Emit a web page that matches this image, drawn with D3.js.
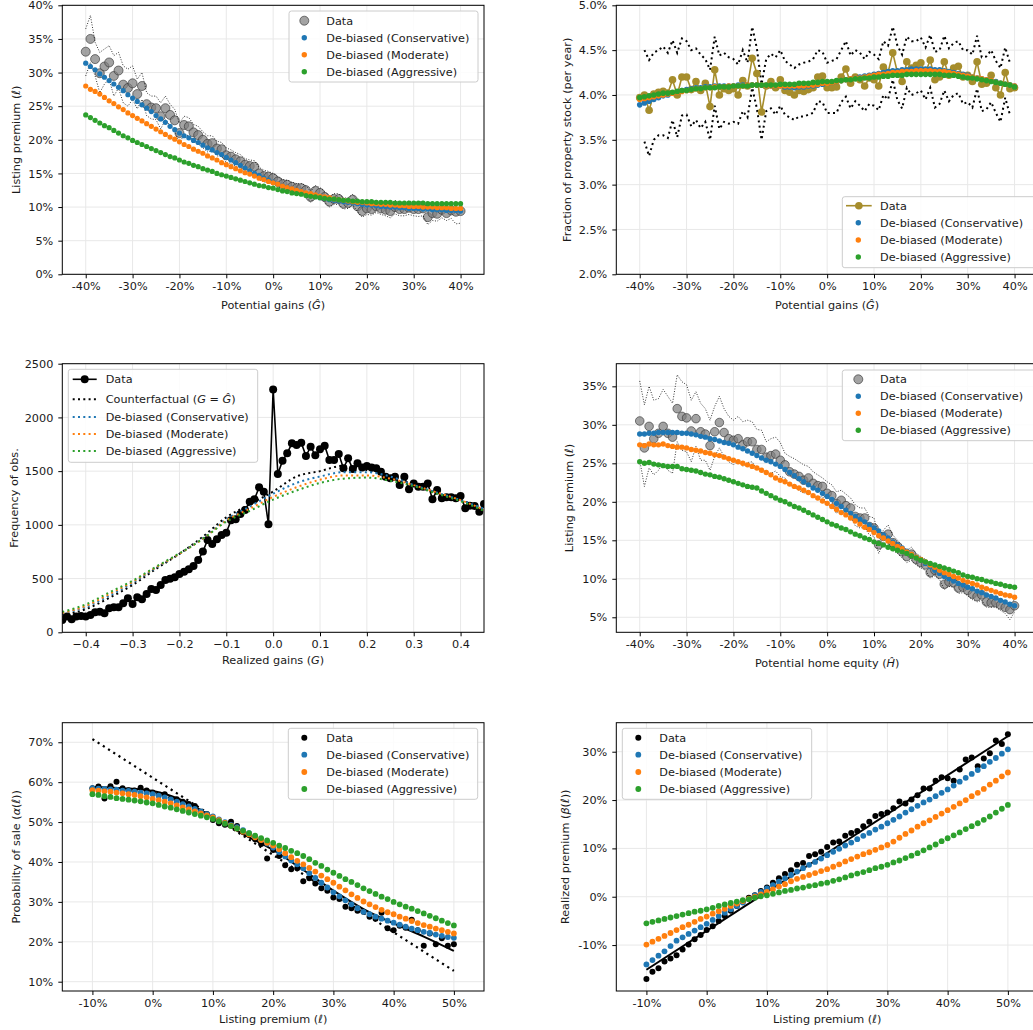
<!DOCTYPE html>
<html>
<head>
<meta charset="utf-8">
<script src="https://cdn.jsdelivr.net/npm/d3@7"></script>
<style>
body { margin: 0; background: #fff; }
svg text { font-family: "DejaVu Sans", sans-serif; font-size: 11.25px; fill: #1a1a1a; }
</style>
</head>
<body>
<svg id="fig" width="1033" height="1030"></svg>
<script>
// ---------- panel 1 : listing premium vs potential gains ----------
var p1X = d3.range(-40, 41);
var p1Data = [33.1,35.0,32.0,29.9,30.9,31.5,29.5,30.3,28.2,27.7,
  28.4,26.8,28.0,25.3,24.8,24.7,23.5,24.7,23.7,22.9,
  21.0,22.2,22.0,21.1,20.7,20.0,19.4,19.5,18.7,18.6,
  17.7,17.5,17.1,16.8,16.3,16.1,16.0,15.0,14.6,14.5,
  14.3,13.8,13.4,13.3,13.0,12.8,12.8,12.5,11.5,12.4,
  12.1,11.5,10.8,11.2,11.2,10.5,10.6,11.1,10.1,9.4,
  9.8,9.7,10.1,9.8,9.6,9.4,10.0,9.7,9.7,9.9,
  9.7,9.7,9.8,8.5,9.1,9.0,9.6,9.1,9.5,9.3,9.4];
var p1Hi = [36.5,38.5,34.5,33.0,33.5,34.0,32.5,33.0,31.0,30.5,
  31.0,29.0,30.0,27.0,26.5,26.5,25.5,26.5,25.3,24.5,
  22.5,23.5,23.3,22.3,22.0,21.2,20.6,20.6,19.8,19.6,
  18.8,18.5,18.1,17.8,17.2,17.0,16.9,15.9,15.5,15.3,
  15.0,14.5,14.1,14.0,13.7,13.5,13.5,13.2,12.3,13.2,
  12.9,12.3,11.6,12.0,12.0,11.3,11.4,11.9,10.9,10.3,
  10.7,10.6,11.0,10.7,10.5,10.4,11.0,10.7,10.7,10.9,
  10.7,10.7,10.9,9.6,10.2,10.1,10.8,10.3,10.7,10.5,10.6];
var p1Lo = [29.5,31.5,29.5,27.0,28.3,29.0,26.5,27.7,25.5,25.0,
  26.0,24.6,26.0,23.6,23.1,23.0,21.6,23.0,22.1,21.3,
  19.5,20.8,20.6,19.9,19.4,18.8,18.2,18.4,17.6,17.6,
  16.6,16.5,16.1,15.8,15.4,15.2,15.1,14.1,13.7,13.7,
  13.5,13.1,12.7,12.6,12.3,12.1,12.1,11.8,10.7,11.6,
  11.3,10.7,10.0,10.4,10.4,9.7,9.8,10.3,9.3,8.5,
  8.9,8.8,9.2,8.9,8.7,8.4,9.0,8.7,8.7,8.9,
  8.7,8.6,8.7,7.4,8.0,7.9,8.4,8.0,8.3,7.5,7.6];
var p1Cons = [31.4,30.9,30.4,29.8,29.3,28.8,28.3,27.8,27.3,26.7,
  26.2,25.7,25.2,24.7,24.2,23.6,23.1,22.6,22.0,21.5,
  21.0,20.6,20.3,19.9,19.6,19.2,18.8,18.5,18.1,17.8,
  17.4,17.0,16.6,16.2,15.8,15.4,15.0,14.7,14.3,14.0,
  13.7,13.4,13.1,12.9,12.6,12.4,12.2,12.0,11.8,11.6,
  11.4,11.3,11.1,11.0,10.9,10.8,10.7,10.6,10.5,10.4,
  10.3,10.3,10.2,10.1,10.1,10.0,10.0,9.9,9.9,9.8,
  9.8,9.8,9.7,9.7,9.6,9.6,9.6,9.5,9.5,9.5,9.4];
var p1Mod = [28.0,27.5,27.2,26.8,26.3,25.8,25.4,24.9,24.5,24.0,
  23.6,23.2,22.8,22.4,22.0,21.6,21.2,20.8,20.4,20.1,
  19.7,19.3,19.0,18.6,18.3,18.0,17.6,17.3,17.0,16.6,
  16.3,16.0,15.7,15.4,15.1,14.9,14.6,14.3,14.1,13.8,
  13.6,13.4,13.1,12.9,12.7,12.5,12.3,12.1,12.0,11.8,
  11.6,11.5,11.4,11.2,11.1,11.0,10.9,10.8,10.7,10.7,
  10.6,10.5,10.5,10.4,10.4,10.3,10.3,10.2,10.2,10.1,
  10.1,10.1,10.0,10.0,10.0,9.9,9.9,9.9,9.8,9.8,9.8];
var p1Agg = [23.7,23.3,22.9,22.5,22.1,21.8,21.4,21.0,20.6,20.3,
  19.9,19.6,19.3,19.0,18.7,18.4,18.1,17.8,17.5,17.3,
  17.0,16.7,16.5,16.2,16.0,15.7,15.5,15.3,15.0,14.8,
  14.6,14.4,14.2,14.0,13.8,13.6,13.4,13.2,13.1,12.9,
  12.8,12.6,12.4,12.3,12.1,12.0,11.9,11.7,11.6,11.5,
  11.4,11.3,11.2,11.2,11.1,11.0,11.0,10.9,10.9,10.8,
  10.8,10.8,10.7,10.7,10.7,10.7,10.6,10.6,10.6,10.6,
  10.6,10.6,10.6,10.5,10.5,10.5,10.5,10.5,10.5,10.5,10.5];

// ---------- panel 2 : fraction of stock listed ----------
var p2X = d3.range(-40, 41);
var p2Data = [3.97,4.00,3.83,4.01,4.03,4.04,4.02,4.17,4.00,4.20,
  4.20,4.06,4.15,4.05,4.13,3.87,4.28,4.00,4.07,4.05,
  4.07,4.00,4.16,4.10,4.41,4.24,3.81,4.10,4.15,4.08,
  4.17,4.05,4.03,4.00,4.05,4.04,4.06,4.08,4.20,4.21,
  4.08,4.08,4.09,4.20,4.29,4.13,4.20,4.17,4.10,4.19,
  4.17,4.10,4.31,4.25,4.47,4.25,4.15,4.37,4.30,4.33,
  4.36,4.25,4.39,4.17,4.20,4.37,4.22,4.30,4.32,4.20,
  4.22,4.15,4.37,4.12,4.13,4.22,4.08,4.00,4.25,4.07,4.08];
var p2Hi = [null,4.50,4.39,4.47,4.50,4.54,4.47,4.61,4.47,4.63,
  4.60,4.50,4.52,4.45,4.40,4.28,4.65,4.44,4.47,4.42,
  4.40,4.34,4.50,4.36,4.76,4.52,4.12,4.40,4.46,4.42,
  4.50,4.38,4.34,4.30,4.34,4.36,4.37,4.40,4.50,4.48,
  4.36,4.38,4.40,4.50,4.60,4.44,4.50,4.47,4.40,4.48,
  4.45,4.40,4.60,4.55,4.76,4.55,4.45,4.65,4.60,4.60,
  4.64,4.53,4.67,4.48,4.50,4.66,4.52,4.58,4.60,4.50,
  4.50,4.45,4.66,4.42,4.43,4.50,4.38,4.30,4.53,4.36,null];
var p2Lo = [null,3.48,3.32,3.50,3.55,3.55,3.52,3.72,3.53,3.77,
  3.78,3.65,3.72,3.63,3.70,3.50,3.88,3.62,3.70,3.68,
  3.70,3.68,3.82,3.75,4.08,3.85,3.50,3.82,3.85,3.78,
  3.88,3.78,3.75,3.72,3.76,3.76,3.78,3.80,3.93,3.92,
  3.80,3.80,3.80,3.92,3.98,3.85,3.93,3.88,3.82,3.90,
  3.88,3.83,4.00,3.95,4.17,3.94,3.85,4.08,4.00,4.02,
  4.05,3.95,4.08,3.86,3.90,4.05,3.93,4.00,4.02,3.90,
  3.92,3.86,4.07,3.82,3.84,3.92,3.80,3.70,3.97,3.78,null];
var p2Cons = [3.89,3.91,3.93,3.95,3.97,3.99,4.00,4.02,4.03,4.05,
  4.06,4.07,4.08,4.08,4.09,4.09,4.10,4.10,4.10,4.10,
  4.10,4.11,4.11,4.11,4.11,4.11,4.11,4.10,4.10,4.10,
  4.10,4.09,4.09,4.08,4.09,4.09,4.10,4.10,4.11,4.12,
  4.13,4.14,4.15,4.16,4.17,4.18,4.19,4.20,4.21,4.22,
  4.23,4.24,4.25,4.26,4.27,4.27,4.28,4.28,4.29,4.29,
  4.29,4.29,4.29,4.28,4.28,4.27,4.26,4.25,4.24,4.23,
  4.22,4.20,4.19,4.18,4.17,4.16,4.15,4.13,4.12,4.11,4.10];
var p2Mod = [3.95,3.96,3.97,3.98,3.99,4.00,4.01,4.02,4.03,4.04,
  4.05,4.06,4.07,4.07,4.08,4.08,4.09,4.09,4.09,4.10,
  4.10,4.10,4.10,4.11,4.11,4.11,4.11,4.10,4.10,4.10,
  4.10,4.10,4.10,4.10,4.10,4.10,4.11,4.11,4.12,4.13,
  4.13,4.14,4.15,4.16,4.17,4.18,4.19,4.19,4.20,4.21,
  4.22,4.23,4.23,4.24,4.25,4.25,4.26,4.26,4.26,4.27,
  4.27,4.27,4.27,4.26,4.26,4.26,4.25,4.24,4.23,4.22,
  4.21,4.20,4.19,4.18,4.17,4.16,4.14,4.13,4.12,4.11,4.10];
var p2Agg = [3.97,3.98,3.99,4.00,4.01,4.02,4.02,4.03,4.04,4.05,
  4.05,4.06,4.07,4.07,4.08,4.08,4.08,4.09,4.09,4.09,
  4.10,4.10,4.10,4.10,4.11,4.11,4.11,4.11,4.11,4.11,
  4.12,4.12,4.12,4.12,4.13,4.13,4.13,4.14,4.14,4.15,
  4.15,4.15,4.16,4.16,4.17,4.17,4.18,4.18,4.19,4.19,
  4.20,4.20,4.21,4.21,4.22,4.22,4.22,4.23,4.23,4.23,
  4.23,4.23,4.23,4.23,4.23,4.22,4.22,4.22,4.21,4.20,
  4.19,4.19,4.18,4.17,4.16,4.15,4.14,4.13,4.12,4.11,4.09];

// ---------- panel 3 : histogram of realized gains ----------
var p3X = d3.range(-45, 46).map(function(d){ return d / 100; });
var p3Data = [115,146,121,146,152,146,161,186,192,177,
  223,233,233,270,316,264,326,307,357,403,
  394,440,487,499,512,543,564,586,617,673,
  751,859,822,865,905,927,1042,1052,1100,1138,
  1216,1238,1349,1309,1005,2261,1473,1597,1666,1759,
  1743,1765,1641,1728,1647,1703,1737,1604,1604,1659,
  1526,1619,1520,1573,1535,1548,1535,1526,1495,1448,
  1433,1448,1371,1448,1331,1386,1355,1355,1386,1238,
  1324,1247,1256,1256,1247,1269,1154,1179,1176,1123,1194];
var p3SX = [-0.45,-0.40,-0.35,-0.30,-0.25,-0.20,-0.15,-0.10,-0.05,0,0.05,0.10,0.15,0.20,0.25,0.30,0.35,0.40,0.45];
var p3Cf = [160,215,320,440,590,730,890,1070,1190,1310,1450,1500,1550,1510,1460,1370,1290,1230,1150];
var p3Cons = [175,235,340,460,600,730,875,1050,1170,1290,1390,1450,1490,1490,1450,1370,1300,1230,1150];
var p3Mod = [180,245,355,470,605,730,870,1040,1150,1260,1350,1420,1460,1460,1430,1370,1300,1230,1140];
var p3Agg = [190,260,370,480,610,735,870,1030,1130,1235,1320,1390,1430,1440,1410,1360,1290,1220,1130];

// ---------- panel 4 : listing premium vs home equity ----------
var p4X = d3.range(-40, 41);
var p4Data = [30.5,27.0,29.8,28.2,28.9,29.8,28.9,28.4,32.1,31.1,
  30.9,29.2,30.8,29.1,28.8,27.3,29.1,30.3,29.0,28.2,
  28.0,28.2,27.4,27.8,27.8,26.8,26.8,25.8,26.0,26.2,
  25.4,24.8,23.9,23.6,23.3,22.8,23.1,22.4,22.1,22.0,
  21.1,20.8,19.8,20.2,19.5,19.2,18.1,17.9,17.9,16.8,
  16.6,14.4,15.5,15.8,14.7,14.2,13.5,12.9,13.2,12.5,
  12.1,11.8,10.8,11.1,10.6,9.3,9.6,9.5,8.8,8.9,
  8.5,8.0,7.7,7.9,7.0,6.9,6.9,6.6,6.3,6.0,6.5];
var p4Hi = [35.7,32.6,35.0,33.2,33.4,34.6,33.7,32.8,36.5,35.6,
  35.2,33.2,34.3,32.8,32.1,30.6,32.4,33.7,32.1,31.1,
  30.6,31.1,30.4,30.6,30.4,29.4,29.3,27.8,28.2,28.4,
  27.7,26.3,25.9,25.6,25.2,24.8,24.6,23.9,23.5,23.1,
  22.6,22.2,21.3,21.5,21.0,20.5,19.6,19.2,19.2,18.1,
  17.9,15.5,16.3,17.0,15.7,15.0,14.4,13.7,14.1,13.3,
  12.9,12.5,11.6,11.9,11.4,10.1,10.4,10.3,9.4,9.5,
  9.2,8.8,8.5,8.6,7.8,7.7,7.7,7.3,7.0,6.7,7.3];
var p4Lo = [25.4,22.0,24.4,23.5,24.1,25.0,24.1,23.7,27.8,26.7,
  26.5,25.2,27.2,25.4,25.4,24.1,25.9,27.0,25.9,25.2,
  24.8,25.4,24.6,25.1,25.2,24.2,24.4,23.7,23.7,24.0,
  23.3,23.1,22.2,21.9,21.5,21.1,21.3,20.8,20.5,20.7,
  19.7,19.4,18.5,19.0,18.2,18.0,16.9,16.6,16.7,15.7,
  15.5,13.3,14.6,14.7,13.7,13.3,12.7,12.1,12.4,11.8,
  11.4,11.1,10.1,10.4,9.9,8.6,9.0,8.9,8.1,8.2,
  7.8,7.3,7.0,7.2,6.3,6.3,6.3,5.9,5.5,4.7,5.7];
var p4Cons = [28.8,28.8,28.9,28.9,29.0,29.0,29.0,29.0,29.0,28.9,
  28.9,28.8,28.7,28.5,28.4,28.2,28.1,27.9,27.7,27.6,
  27.4,27.1,26.9,26.6,26.3,26.0,25.7,25.4,25.2,24.9,
  24.6,24.2,23.8,23.4,23.0,22.6,22.2,21.8,21.5,21.1,
  20.7,20.3,19.8,19.4,18.9,18.5,18.1,17.7,17.4,17.0,
  16.6,16.2,15.7,15.3,14.8,14.4,14.0,13.6,13.2,12.8,
  12.4,12.0,11.6,11.1,10.7,10.3,10.0,9.7,9.4,9.2,
  8.9,8.7,8.4,8.2,7.9,7.7,7.5,7.2,7.0,6.7,6.5];
var p4Mod = [27.4,27.3,27.5,27.4,27.4,27.5,27.3,27.2,27.1,27.1,
  27.0,26.8,26.7,26.6,26.4,26.3,26.1,26.0,25.8,25.6,
  25.4,25.2,25.0,24.8,24.6,24.4,24.1,23.8,23.5,23.1,
  22.8,22.6,22.3,22.0,21.8,21.5,21.2,20.8,20.5,20.1,
  19.8,19.4,19.0,18.6,18.3,17.9,17.5,17.1,16.7,16.4,
  16.0,15.6,15.3,14.9,14.6,14.2,13.9,13.5,13.2,12.8,
  12.5,12.2,11.8,11.5,11.1,10.8,10.6,10.3,10.1,9.8,
  9.6,9.4,9.2,8.9,8.7,8.5,8.3,8.1,7.9,7.8,7.6];
var p4Agg = [25.2,25.0,25.1,24.9,24.8,24.7,24.6,24.6,24.6,24.3,
  24.2,24.1,24.0,23.8,23.6,23.5,23.3,23.2,23.0,22.8,
  22.6,22.4,22.2,22.0,21.9,21.8,21.4,21.1,20.8,20.5,
  20.2,20.0,19.7,19.4,19.2,18.9,18.6,18.3,18.0,17.7,
  17.4,17.1,16.9,16.6,16.4,16.1,15.8,15.6,15.3,15.1,
  14.8,14.6,14.4,14.1,13.9,13.7,13.5,13.3,13.0,12.7,
  12.4,12.2,12.0,11.8,11.6,11.4,11.2,11.0,10.8,10.5,
  10.3,10.2,10.0,9.9,9.7,9.6,9.4,9.3,9.1,9.0,8.9];

// ---------- panel 5 : probability of sale ----------
var p5X = d3.range(-10, 51);
var p5Data = [58.5,58.9,55.9,59.0,60.1,58.5,58.0,57.9,58.6,57.9,
  57.4,56.8,57.0,55.9,55.7,55.1,54.5,54.0,52.6,52.0,
  50.5,49.7,49.3,50.1,49.0,47.6,46.8,45.7,44.5,40.9,
  43.0,41.5,39.2,38.2,38.4,35.2,35.9,34.6,33.4,32.8,
  31.1,30.7,28.8,28.4,27.8,27.5,26.3,25.8,27.3,23.4,
  22.9,24.0,23.5,25.5,22.9,19.0,22.1,19.4,20.9,19.0,19.4];
var p5FitX = [-10,-5,0,5,10,15,20,25,30,35,40,45,50];
var p5Fit = [58.8,58.5,57.8,55.4,51.2,47.0,43.0,38.0,32.8,28.2,24.6,21.3,17.7];
var p5CfX = [-10, 50];
var p5Cf = [70.8, 12.7];
var p5Cons = [58.5,58.4,58.3,58.2,58.1,57.9,57.8,57.6,57.4,57.2,
  57.0,56.6,56.2,55.7,55.1,54.5,53.9,53.3,52.7,52.0,
  51.4,50.7,50.0,49.3,48.7,48.0,47.2,46.4,45.6,44.6,
  43.6,42.5,41.4,40.4,39.4,38.4,37.2,36.0,34.8,33.6,
  32.4,31.4,30.4,29.4,28.4,27.5,26.9,26.3,25.8,25.3,
  24.8,24.3,23.8,23.3,22.9,22.5,22.2,21.8,21.5,21.2,21.0];
var p5Mod = [58.0,57.9,57.7,57.6,57.4,57.2,57.0,56.8,56.5,56.2,
  55.8,55.5,55.1,54.7,54.2,53.7,53.2,52.7,52.2,51.7,
  51.2,50.5,49.8,49.1,48.4,47.6,46.9,46.2,45.5,44.8,
  44.1,43.2,42.2,41.2,40.3,39.4,38.5,37.6,36.6,35.7,
  34.8,33.8,32.9,31.9,31.0,30.1,29.4,28.7,28.0,27.4,
  26.9,26.3,25.8,25.2,24.7,24.2,23.8,23.3,22.9,22.5,22.1];
var p5Agg = [57.0,56.8,56.5,56.3,56.0,55.8,55.6,55.4,55.2,54.9,
  54.7,54.3,53.9,53.6,53.2,52.8,52.4,52.0,51.6,51.2,
  50.8,50.2,49.6,49.0,48.4,47.8,47.2,46.6,46.0,45.4,
  44.8,44.1,43.5,42.8,42.2,41.5,40.7,39.8,39.0,38.1,
  37.3,36.5,35.7,35.0,34.2,33.4,32.7,32.0,31.3,30.7,
  30.0,29.4,28.8,28.3,27.7,27.1,26.5,25.9,25.3,24.7,24.1];

// ---------- panel 6 : realized premium ----------
var p6X = d3.range(-10, 51);
var p6Data = [-17.0,-15.5,-14.8,-13.4,-12.8,-12.1,-10.9,-9.9,-8.8,-7.9,
  -6.9,-6.1,-5.0,-4.0,-2.9,-1.9,-1.0,-0.2,0.3,1.2,
  1.9,2.9,3.8,4.7,5.5,6.6,7.0,8.4,8.8,9.3,
  10.3,11.2,11.4,12.6,13.2,13.6,14.6,15.5,16.7,17.1,
  17.4,18.3,19.7,19.3,20.1,21.0,22.4,22.4,24.0,24.7,
  24.5,24.0,26.3,28.4,28.8,27.0,28.6,29.7,32.3,31.6,33.6];
var p6FitX = [-10, 50];
var p6Fit = [-15.1, 33.2];
var p6Cons = [-14.0,-13.1,-12.2,-11.3,-10.2,-9.1,-8.4,-7.7,-7.0,-6.3,
  -5.6,-4.8,-4.0,-3.3,-2.6,-1.9,-1.2,-0.5,0.3,1.0,
  1.7,2.4,3.1,3.8,4.5,5.2,5.9,6.6,7.2,7.9,
  8.6,9.3,9.9,10.6,11.2,11.9,12.6,13.2,13.9,14.5,
  15.2,15.9,16.6,17.4,18.1,18.8,19.5,20.1,20.8,21.5,
  22.2,23.0,23.8,24.6,25.4,26.2,27.0,27.9,28.7,29.6,30.5];
var p6Mod = [-9.9,-9.3,-8.7,-8.1,-7.5,-6.9,-6.3,-5.8,-5.2,-4.6,
  -4.1,-3.5,-3.0,-2.5,-1.9,-1.4,-0.9,-0.4,0.0,0.5,
  1.0,1.5,2.1,2.6,3.2,3.7,4.1,4.5,4.9,5.3,
  5.7,6.2,6.7,7.3,7.8,8.3,8.8,9.2,9.7,10.2,
  10.7,11.4,12.2,13.0,13.7,14.5,15.2,15.8,16.5,17.2,
  17.9,18.6,19.3,20.0,20.8,21.5,22.3,23.2,24.0,24.9,25.7];
var p6Agg = [-5.5,-5.2,-4.9,-4.6,-4.3,-4.0,-3.7,-3.4,-3.1,-2.9,
  -2.6,-2.3,-1.9,-1.6,-1.3,-1.0,-0.7,-0.5,-0.2,0.1,
  0.3,0.6,0.9,1.2,1.4,1.7,1.9,2.2,2.4,2.7,
  2.9,3.3,3.6,4.0,4.4,4.8,5.1,5.5,5.9,6.2,
  6.6,7.1,7.5,8.0,8.5,9.0,9.6,10.2,10.8,11.5,
  12.1,12.7,13.3,14.0,14.6,15.2,15.9,16.6,17.4,18.2,19.0];

// tick values
var pctGainTicks = [-40,-30,-20,-10,0,10,20,30,40];
var premTicks = [-10,0,10,20,30,40,50];
var p1YT = [0,5,10,15,20,25,30,35,40];
var p2YT = [2.0,2.5,3.0,3.5,4.0,4.5,5.0];
var p3XT = [-0.4,-0.3,-0.2,-0.1,0,0.1,0.2,0.3,0.4];
var p3YT = [0,500,1000,1500,2000,2500];
var p4YT = [5,10,15,20,25,30,35];
var p5YT = [10,20,30,40,50,60,70];
var p6YT = [-10,0,10,20,30];

var C0 = "#1f77b4", C1 = "#ff7f0e", C2 = "#2ca02c", GOLD = "#a68d2c";
var svg = d3.select("#fig");
var pct = function(d){ return d + "%"; };

function rich(t, parts){
  parts.forEach(function(p){
    var it = p.charAt(0) === "*";
    t.append("tspan").text(it ? p.slice(1) : p).attr("font-style", it ? "italic" : null);
  });
}

function axes(o){
  var x = d3.scaleLinear().domain(o.xd).range([o.l, o.r]);
  var y = d3.scaleLinear().domain(o.yd).range([o.b, o.t]);
  var g = svg.append("g");
  svg.append("clipPath").attr("id", "clip" + o.id).append("rect")
    .attr("x", o.l).attr("y", o.t).attr("width", o.r - o.l).attr("height", o.b - o.t);
  var grid = g.append("g").attr("stroke", "#e8e8e8").attr("stroke-width", 1);
  grid.selectAll(".gx").data(o.xt).enter().append("line")
    .attr("x1", x).attr("x2", x).attr("y1", o.t).attr("y2", o.b);
  grid.selectAll(".gy").data(o.yt).enter().append("line")
    .attr("y1", y).attr("y2", y).attr("x1", o.l).attr("x2", o.r);
  var ax = g.append("g").attr("transform", "translate(0," + o.b + ")")
    .call(d3.axisBottom(x).tickValues(o.xt).tickFormat(o.xf).tickSize(4).tickPadding(4));
  var ay = g.append("g").attr("transform", "translate(" + o.l + ",0)")
    .call(d3.axisLeft(y).tickValues(o.yt).tickFormat(o.yf).tickSize(4).tickPadding(5));
  ax.select(".domain").remove();
  ay.select(".domain").remove();
  var plot = g.append("g").attr("clip-path", "url(#clip" + o.id + ")");
  rich(g.append("text").attr("x", (o.l + o.r) / 2).attr("y", o.xly).attr("text-anchor", "middle"), o.xl);
  rich(g.append("text").attr("text-anchor", "middle")
    .attr("transform", "translate(" + o.ylx + "," + (o.t + o.b) / 2 + ") rotate(-90)"), o.yl);
  return {g: g, plot: plot, x: x, y: y, o: o};
}

function spines(a){
  var o = a.o;
  a.g.append("rect").attr("x", o.l).attr("y", o.t).attr("width", o.r - o.l).attr("height", o.b - o.t)
    .attr("fill", "none").attr("stroke", "#000").attr("stroke-width", 1);
}

function dots(a, xs, ys, r, fill, extra){
  var s = a.plot.append("g").selectAll("circle").data(xs).enter().append("circle")
    .attr("cx", function(d){ return a.x(d); })
    .attr("cy", function(d, i){ return a.y(ys[i]); })
    .attr("r", r).attr("fill", fill);
  if (extra) extra(s);
}

function line(a, xs, ys, stroke, w, dash, curve){
  var ln = d3.line().defined(function(d, i){ return ys[i] != null; })
    .x(function(d){ return a.x(d); }).y(function(d, i){ return a.y(ys[i]); });
  if (curve) ln.curve(curve);
  a.plot.append("path").datum(xs).attr("d", ln).attr("fill", "none")
    .attr("stroke", stroke).attr("stroke-width", w).attr("stroke-dasharray", dash || null);
}

var grayStyle = function(s){
  s.attr("fill-opacity", 0.72).attr("stroke", "#333").attr("stroke-opacity", 0.7).attr("stroke-width", 0.9);
};

function legend(box, rows, mx, lx0, lx1, tx){
  var g = svg.append("g");
  g.append("rect").attr("x", box[0]).attr("y", box[1]).attr("width", box[2]).attr("height", box[3])
    .attr("rx", 2.5).attr("fill", "#fff").attr("fill-opacity", 0.85).attr("stroke", "#cccccc").attr("stroke-width", 1);
  rows.forEach(function(r){
    if (r.k === "gray") {
      g.append("circle").attr("cx", mx).attr("cy", r.y).attr("r", 4.5).attr("fill", "gray").call(grayStyle);
    } else if (r.k === "dot") {
      g.append("circle").attr("cx", mx).attr("cy", r.y).attr("r", r.r || 2.7).attr("fill", r.c);
    } else if (r.k === "lm") {
      g.append("line").attr("x1", lx0).attr("x2", lx1).attr("y1", r.y).attr("y2", r.y)
        .attr("stroke", r.c).attr("stroke-width", 1.6);
      g.append("circle").attr("cx", (lx0 + lx1) / 2).attr("cy", r.y).attr("r", r.r).attr("fill", r.c);
    } else if (r.k === "dotted") {
      g.append("line").attr("x1", lx0).attr("x2", lx1).attr("y1", r.y).attr("y2", r.y)
        .attr("stroke", r.c).attr("stroke-width", 2).attr("stroke-dasharray", "2,3.3");
    }
    rich(g.append("text").attr("x", tx).attr("y", r.y + 4), r.t);
  });
}

var LBL = ["De-biased (Conservative)", "De-biased (Moderate)", "De-biased (Aggressive)"];

// ---- panel 1
var a1 = axes({id: 1, l: 62.3, r: 484, t: 5.3, b: 274.3, xd: [-45, 45], yd: [0, 40],
  xt: pctGainTicks, yt: p1YT, xf: pct, yf: pct, xly: 309, ylx: 19.5,
  xl: ["Potential gains (", "*Ĝ", ")"], yl: ["Listing premium (", "*ℓ", ")"]});
dots(a1, p1X, p1Data, 4.5, "gray", grayStyle);
line(a1, p1X, p1Hi, "#000", 0.8, "1,1.6");
line(a1, p1X, p1Lo, "#000", 0.8, "1,1.6");
dots(a1, p1X, p1Cons, 2.6, C0);
dots(a1, p1X, p1Mod, 2.6, C1);
dots(a1, p1X, p1Agg, 2.6, C2);
spines(a1);
legend([289, 11, 189, 71], [
  {y: 20.7, k: "gray", t: ["Data"]},
  {y: 37.7, k: "dot", c: C0, t: [LBL[0]]},
  {y: 54.7, k: "dot", c: C1, t: [LBL[1]]},
  {y: 71.7, k: "dot", c: C2, t: [LBL[2]]}], 304.3, 0, 0, 326.3);

// ---- panel 2
var a2 = axes({id: 2, l: 616.3, r: 1038, t: 5.3, b: 274.3, xd: [-45, 45], yd: [2, 5],
  xt: pctGainTicks, yt: p2YT, xf: pct, yf: function(d){ return d3.format(".1f")(d) + "%"; },
  xly: 309, ylx: 571, xl: ["Potential gains (", "*Ĝ", ")"], yl: ["Fraction of property stock (per year)"]});
line(a2, p2X, p2Hi, "#000", 2, "2,3.3");
line(a2, p2X, p2Lo, "#000", 2, "2,3.3");
line(a2, p2X, p2Data, GOLD, 1.6);
dots(a2, p2X, p2Data, 3.8, GOLD);
dots(a2, p2X, p2Cons, 2.8, C0);
dots(a2, p2X, p2Mod, 2.8, C1);
dots(a2, p2X, p2Agg, 2.8, C2);
spines(a2);
legend([842.3, 196.7, 196, 71], [
  {y: 205.7, k: "lm", c: GOLD, r: 3.8, t: ["Data"]},
  {y: 222.7, k: "dot", c: C0, t: [LBL[0]]},
  {y: 240, k: "dot", c: C1, t: [LBL[1]]},
  {y: 257, k: "dot", c: C2, t: [LBL[2]]}], 858.3, 846, 871.7, 880);

// ---- panel 3
var a3 = axes({id: 3, l: 62.3, r: 484, t: 363.7, b: 632.3, xd: [-0.45, 0.45], yd: [0, 2500],
  xt: p3XT, yt: p3YT, xf: d3.format(".1f"), yf: d3.format("d"), xly: 664, ylx: 17.5,
  xl: ["Realized gains (", "*G", ")"], yl: ["Frequency of obs."]});
line(a3, p3X, p3Data, "#000", 1.6);
dots(a3, p3X, p3Data, 4, "#000");
line(a3, p3SX, p3Cf, "#000", 2, "2,3.3", d3.curveMonotoneX);
line(a3, p3SX, p3Cons, C0, 2, "2,3.3", d3.curveMonotoneX);
line(a3, p3SX, p3Mod, C1, 2, "2,3.3", d3.curveMonotoneX);
line(a3, p3SX, p3Agg, C2, 2, "2,3.3", d3.curveMonotoneX);
spines(a3);
legend([68.3, 369.3, 189.4, 93], [
  {y: 379.3, k: "lm", c: "#000", r: 4, t: ["Data"]},
  {y: 399.3, k: "dotted", c: "#000", t: ["Counterfactual (", "*G", " = ", "*Ĝ", ")"]},
  {y: 417, k: "dotted", c: C0, t: [LBL[0]]},
  {y: 434, k: "dotted", c: C1, t: [LBL[1]]},
  {y: 451, k: "dotted", c: C2, t: [LBL[2]]}], 0, 72.7, 96.7, 105.7);

// ---- panel 4
var a4 = axes({id: 4, l: 616.3, r: 1038, t: 363.7, b: 632.3, xd: [-45, 45], yd: [3.05, 37.94],
  xt: pctGainTicks, yt: p4YT, xf: pct, yf: pct, xly: 667, ylx: 573,
  xl: ["Potential home equity (", "*Ĥ", ")"], yl: ["Listing premium (", "*ℓ", ")"]});
dots(a4, p4X, p4Data, 4.3, "gray", grayStyle);
line(a4, p4X, p4Hi, "#000", 0.8, "1,1.6");
line(a4, p4X, p4Lo, "#000", 0.8, "1,1.6");
dots(a4, p4X, p4Cons, 2.7, C0);
dots(a4, p4X, p4Mod, 2.7, C1);
dots(a4, p4X, p4Agg, 2.7, C2);
spines(a4);
legend([842.3, 370, 196, 70.7], [
  {y: 379.3, k: "gray", t: ["Data"]},
  {y: 396.3, k: "dot", c: C0, t: [LBL[0]]},
  {y: 413.3, k: "dot", c: C1, t: [LBL[1]]},
  {y: 430.3, k: "dot", c: C2, t: [LBL[2]]}], 858.3, 0, 0, 880);

// ---- panel 5
var a5 = axes({id: 5, l: 62.3, r: 484, t: 722.7, b: 991, xd: [-15, 55], yd: [7.67, 74.9],
  xt: premTicks, yt: p5YT, xf: pct, yf: pct, xly: 1023, ylx: 19.5,
  xl: ["Listing premium (", "*ℓ", ")"], yl: ["Probability of sale (", "*α", "(", "*ℓ", "))"]});
line(a5, p5CfX, p5Cf, "#000", 2.2, "2.2,4");
dots(a5, p5X, p5Data, 3, "#000");
line(a5, p5FitX, p5Fit, "#000", 2, null, d3.curveMonotoneX);
dots(a5, p5X, p5Cons, 2.9, C0);
dots(a5, p5X, p5Mod, 2.9, C1);
dots(a5, p5X, p5Agg, 2.9, C2);
spines(a5);
legend([288.3, 728.3, 189.4, 71], [
  {y: 737.7, k: "dot", c: "#000", r: 3, t: ["Data"]},
  {y: 754.7, k: "dot", c: C0, r: 2.9, t: [LBL[0]]},
  {y: 772, k: "dot", c: C1, r: 2.9, t: [LBL[1]]},
  {y: 789, k: "dot", c: C2, r: 2.9, t: [LBL[2]]}], 304.3, 0, 0, 326.3);

// ---- panel 6
var a6 = axes({id: 6, l: 616.3, r: 1038, t: 722.7, b: 991, xd: [-15, 55], yd: [-19.5, 36.0],
  xt: premTicks, yt: p6YT, xf: pct, yf: pct, xly: 1023, ylx: 569,
  xl: ["Listing premium (", "*ℓ", ")"], yl: ["Realized premium (", "*β", "(", "*ℓ", "))"]});
dots(a6, p6X, p6Data, 3, "#000");
line(a6, p6FitX, p6Fit, "#000", 2);
dots(a6, p6X, p6Cons, 2.9, C0);
dots(a6, p6X, p6Mod, 2.9, C1);
dots(a6, p6X, p6Agg, 2.9, C2);
spines(a6);
legend([622.3, 728.3, 189.4, 71], [
  {y: 737.7, k: "dot", c: "#000", r: 3, t: ["Data"]},
  {y: 754.7, k: "dot", c: C0, r: 2.9, t: [LBL[0]]},
  {y: 772, k: "dot", c: C1, r: 2.9, t: [LBL[1]]},
  {y: 789, k: "dot", c: C2, r: 2.9, t: [LBL[2]]}], 638.3, 0, 0, 659.3);
</script>
</body>
</html>
